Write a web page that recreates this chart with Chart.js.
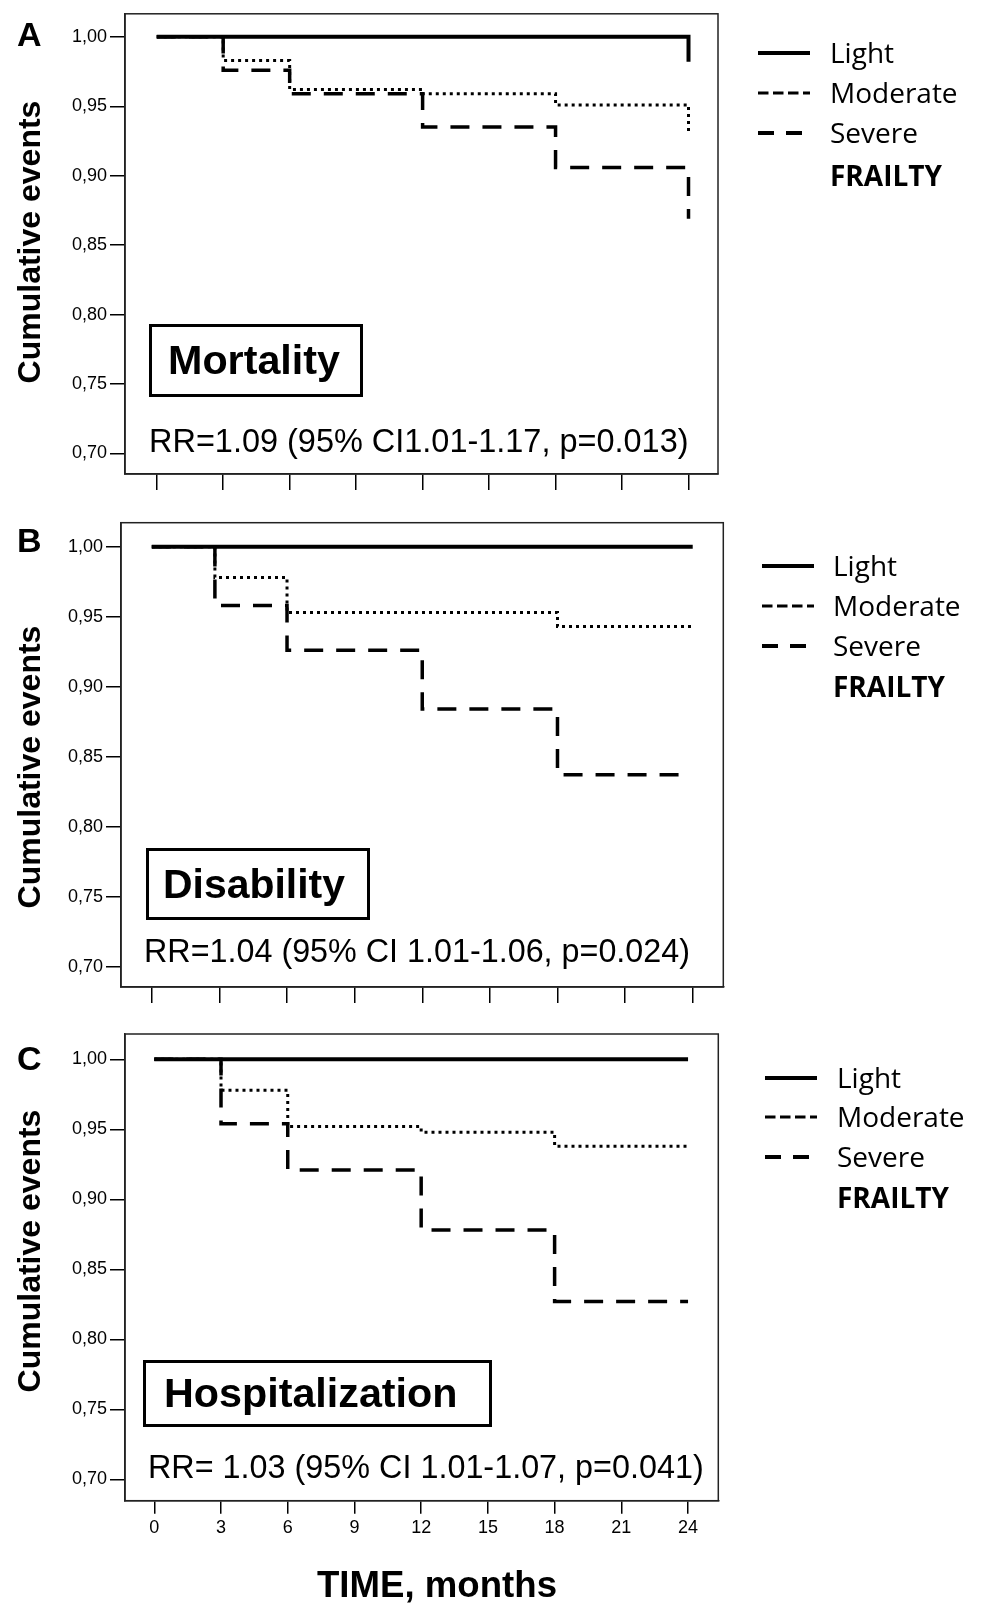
<!DOCTYPE html>
<html>
<head>
<meta charset="utf-8">
<script src="https://cdn.jsdelivr.net/npm/chart.js@4.4.1/dist/chart.umd.min.js"></script>
<style>
  html, body { margin: 0; padding: 0; background: #fff; }
  #page { position: relative; width: 988px; height: 1604px; overflow: hidden; background: #fff; }
  canvas { position: absolute; left: 0; }
  .t { position: absolute; white-space: nowrap; color: #000; transform-origin: 0 50%; }
  .box { position: absolute; border: 3px solid #000; box-sizing: border-box; }
  svg.key { position: absolute; overflow: visible; }
</style>
</head>
<body>
<div id="page">
  <canvas id="chartA" width="988" height="505" style="top:0px"></canvas>
  <canvas id="chartB" width="988" height="505" style="top:505px"></canvas>
  <canvas id="chartC" width="988" height="594" style="top:1010px"></canvas>
</div>
<script>
// axes
const monthTicks = [0, 3, 6, 9, 12, 15, 18, 21, 24];
const eventTicks = [0.70, 0.75, 0.80, 0.85, 0.90, 0.95, 1.00];
const groups = ["Light", "Moderate", "Severe"];

// A - mortality
const mortLightT = [0, 24];
const mortLight = [1.00, 0.982];
const mortModT = [0, 3, 6, 12, 18, 24];
const mortMod = [1.00, 0.983, 0.962, 0.959, 0.951, 0.931];
const mortSevT = [0, 3, 6, 12, 18, 24];
const mortSev = [1.00, 0.976, 0.959, 0.935, 0.906, 0.869];

// B - disability
const disLightT = [0, 24];
const disLight = [1.00, 1.00];
const disModT = [0, 2.8, 6, 18, 24];
const disMod = [1.00, 0.978, 0.953, 0.943, 0.943];
const disSevT = [0, 2.8, 6, 12, 18, 23.4];
const disSev = [1.00, 0.958, 0.926, 0.884, 0.837, 0.837];

// C - hospitalization
const hospLightT = [0, 24];
const hospLight = [1.00, 1.00];
const hospModT = [0, 3, 6, 12, 18, 24];
const hospMod = [1.00, 0.978, 0.952, 0.948, 0.938, 0.938];
const hospSevT = [0, 3, 6, 12, 18, 24];
const hospSev = [1.00, 0.954, 0.921, 0.878, 0.827, 0.827];

Chart.defaults.font.family = "Liberation Sans";
Chart.defaults.color = "#000";

const lineStyle = [
  { width: 4, dash: [] },
  { width: 3, dash: [3, 4] },
  { width: 3.5, dash: [19, 13] }
];

const framePlugin = {
  id: "frame",
  beforeDatasetsDraw(chart) {
    const a = chart.chartArea, ctx = chart.ctx;
    ctx.save();
    ctx.strokeStyle = "#222";
    ctx.lineWidth = 1.5;
    ctx.strokeRect(a.left, a.top, a.right - a.left, a.bottom - a.top);
    ctx.restore();
  }
};

function pts(xs, ys) {
  return xs.map((x, i) => ({ x: x, y: ys[i] }));
}

function makeChart(id, series, g) {
  new Chart(document.getElementById(id), {
    type: "line",
    data: {
      datasets: series.map((s, i) => ({
        label: groups[i],
        data: pts(s[0], s[1]),
        stepped: "before",
        borderColor: "#000",
        borderWidth: lineStyle[i].width,
        borderDash: lineStyle[i].dash,
        borderCapStyle: "butt",
        pointRadius: 0,
        fill: false
      }))
    },
    options: {
      responsive: false,
      animation: false,
      devicePixelRatio: 1,
      layout: { padding: { left: 0, top: g.top, right: 988 - g.right, bottom: 0 } },
      plugins: { legend: { display: false }, tooltip: { enabled: false } },
      scales: {
        x: {
          type: "linear",
          min: g.xMin,
          max: g.xMax,
          afterBuildTicks: s => { s.ticks = monthTicks.map(v => ({ value: v })); },
          afterFit: s => { s.height = g.xH; },
          grid: { drawOnChartArea: false, drawTicks: true, tickLength: g.xTick, color: "#000", lineWidth: 1.5 },
          border: { display: true, color: "#222", width: 1.5 },
          ticks: { display: g.showX, autoSkip: false, maxRotation: 0, padding: 4, font: { size: 18 } }
        },
        y: {
          min: g.yMin,
          max: g.yMax,
          afterBuildTicks: s => { s.ticks = eventTicks.map(v => ({ value: v })); },
          afterFit: s => { s.width = g.left; },
          grid: { drawOnChartArea: false, drawTicks: true, tickLength: 15, color: "#000", lineWidth: 1.5 },
          border: { display: true, color: "#222", width: 1.5 },
          ticks: { padding: 3, font: { size: 18 }, callback: v => v.toFixed(2).replace(".", ",") }
        }
      }
    },
    plugins: [framePlugin]
  });
}

makeChart("chartA",
  [[mortLightT, mortLight], [mortModT, mortMod], [mortSevT, mortSev]],
  { left: 125, right: 718, top: 10, xH: 31, xTick: 16, showX: false,
    xMin: -1.431, xMax: 25.331, yMin: 0.6852, yMax: 1.0166 });
makeChart("chartB",
  [[disLightT, disLight], [disModT, disMod], [disSevT, disSev]],
  { left: 121, right: 723.3, top: 17.7, xH: 23, xTick: 16, showX: false,
    xMin: -1.366, xMax: 25.357, yMin: 0.6855, yMax: 1.0171 });
makeChart("chartC",
  [[hospLightT, hospLight], [hospModT, hospMod], [hospSevT, hospSev]],
  { left: 125, right: 718.3, top: 24, xH: 103.3, xTick: 13, showX: true,
    xMin: -1.317, xMax: 25.36, yMin: 0.6847, yMax: 1.0181 });

// text and legend overlays
const page = document.getElementById("page");
const meas = document.createElement("canvas").getContext("2d");

function addText(txt, o) {
  const font = (o.weight || "normal") + " " + o.size + "px " + (o.family || "Liberation Sans");
  meas.font = font;
  const m = meas.measureText(txt);
  const cap = meas.measureText("H").actualBoundingBoxAscent;
  const fA = m.fontBoundingBoxAscent, fD = m.fontBoundingBoxDescent;
  const baseOff = (o.size - (fA + fD)) / 2 + fA;
  const el = document.createElement("div");
  el.className = "t";
  el.textContent = txt;
  el.style.font = font;
  el.style.lineHeight = o.size + "px";
  const w = o.width || m.width;
  if (o.rotate) {
    const dy = baseOff - cap / 2 - o.size / 2;
    el.style.transformOrigin = "50% 50%";
    el.style.left = (o.cx - dy - m.width / 2) + "px";
    el.style.top = (o.cy - o.size / 2) + "px";
    el.style.transform = "rotate(-90deg)";
  } else {
    const left = o.cx !== undefined ? o.cx - w / 2 : o.x;
    el.style.left = left + "px";
    el.style.top = (o.capY + cap / 2 - baseOff) + "px";
    if (o.width) el.style.transform = "scaleX(" + (o.width / m.width) + ")";
  }
  page.appendChild(el);
}

function addBox(x1, y1, x2, y2) {
  const b = document.createElement("div");
  b.className = "box";
  b.style.left = x1 + "px"; b.style.top = y1 + "px";
  b.style.width = (x2 - x1) + "px"; b.style.height = (y2 - y1) + "px";
  page.appendChild(b);
}

const keyStyle = [
  { width: 4, dash: "none", len: 52 },
  { width: 3, dash: "10.5 4.5", len: 52 },
  { width: 4, dash: "16 12", len: 45 }
];

function addLegend(x1, textX, rows) {
  groups.forEach((name, i) => {
    const s = keyStyle[i];
    const ns = "http://www.w3.org/2000/svg";
    const svg = document.createElementNS(ns, "svg");
    svg.setAttribute("class", "key");
    svg.setAttribute("width", s.len);
    svg.setAttribute("height", 10);
    svg.style.left = x1 + "px";
    svg.style.top = (rows[i] - 5) + "px";
    const ln = document.createElementNS(ns, "line");
    ln.setAttribute("x1", 0); ln.setAttribute("y1", 5);
    ln.setAttribute("x2", s.len); ln.setAttribute("y2", 5);
    ln.setAttribute("stroke", "#000");
    ln.setAttribute("stroke-width", s.width);
    if (s.dash !== "none") ln.setAttribute("stroke-dasharray", s.dash);
    svg.appendChild(ln);
    page.appendChild(svg);
    addText(name, { x: textX, capY: rows[i], size: 28, family: "Open Sans" });
  });
  addText("FRAILTY", { x: textX, capY: rows[3], size: 28, weight: "bold", family: "Open Sans" });
}

// panel A
addText("A", { x: 17, capY: 34, size: 34, weight: "bold" });
addText("Cumulative events", { cx: 29, cy: 242, size: 32, weight: "bold", rotate: true });
addBox(149, 324, 363, 397);
addText("Mortality", { x: 167.5, capY: 360, size: 41, weight: "bold", width: 172 });
addText("RR=1.09 (95% CI1.01-1.17, p=0.013)", { x: 149, capY: 440, size: 34, width: 539.5 });
addLegend(758, 830, [53.3, 92.7, 133.3, 175]);

// panel B
addText("B", { x: 17, capY: 540.5, size: 34, weight: "bold" });
addText("Cumulative events", { cx: 29, cy: 767, size: 32, weight: "bold", rotate: true });
addBox(146, 848, 369.5, 920);
addText("Disability", { x: 163, capY: 884, size: 41, weight: "bold", width: 182 });
addText("RR=1.04 (95% CI 1.01-1.06, p=0.024)", { x: 143.7, capY: 950, size: 34, width: 546 });
addLegend(762, 833, [565.7, 605.7, 645.7, 686.7]);

// panel C
addText("C", { x: 17, capY: 1058, size: 34, weight: "bold" });
addText("Cumulative events", { cx: 29, cy: 1251, size: 32, weight: "bold", rotate: true });
addBox(143, 1360, 492, 1427);
addText("Hospitalization", { x: 163.6, capY: 1393.5, size: 41, weight: "bold", width: 293.5 });
addText("RR= 1.03 (95% CI 1.01-1.07, p=0.041)", { x: 148, capY: 1466, size: 34, width: 555.7 });
addLegend(765, 837, [1077.7, 1117.3, 1156.7, 1197.8]);

addText("TIME, months", { cx: 437, capY: 1584.5, size: 36, weight: "bold", width: 240 });
</script>
</body>
</html>
